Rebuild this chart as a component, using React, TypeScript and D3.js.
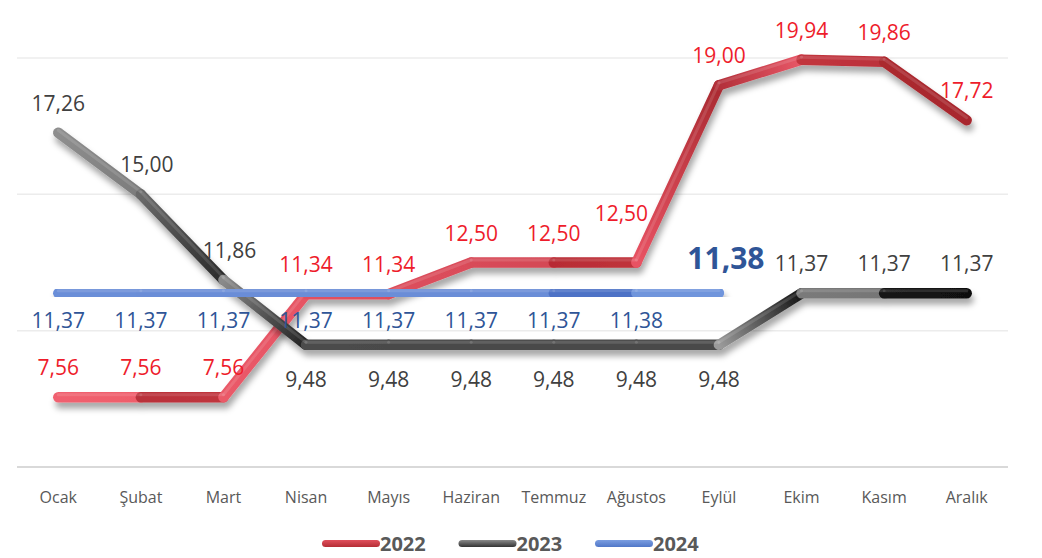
import { scaleBand, scaleLinear } from 'd3'

const months = ['Ocak', 'Şubat', 'Mart', 'Nisan', 'Mayıs', 'Haziran', 'Temmuz', 'Ağustos', 'Eylül', 'Ekim', 'Kasım', 'Aralık']
const values2022 = [7.56, 7.56, 7.56, 11.34, 11.34, 12.5, 12.5, 12.5, 19.0, 19.94, 19.86, 17.72]
const values2023 = [17.26, 15.0, 11.86, 9.48, 9.48, 9.48, 9.48, 9.48, 9.48, 11.37, 11.37, 11.37]
const values2024 = [11.37, 11.37, 11.37, 11.37, 11.37, 11.37, 11.37, 11.38, 11.38]
const yTicks = [5, 10, 15, 20]

// label placement per point: 'a' above, 'b' below
const place2022 = 'aaaaaaaaaaaa'
const place2023 = 'aaabbbbbbaaa'
const place2024 = 'bbbbbbbbA'

// segment colours [start, end]
const seg2022 = [
  ['#f0616f', '#ef5d6b'], ['#b9313a', '#c0353e'], ['#ea5a68', '#e65464'], ['#e05060', '#de4e5e'],
  ['#dc4e5c', '#da4c5a'], ['#d84b59', '#d44856'], ['#b82c35', '#c0323b'], ['#e85363', '#a92a31'],
  ['#b3303a', '#e85868'], ['#c2353e', '#bb313a'], ['#ab292f', '#a8282e']
]
const seg2023 = [
  ['#8e8e8e', '#7c7c7c'], ['#6a6a6a', '#2a2a2a'], ['#8a8a8a', '#222222'], ['#4c4c4c', '#4a4a4a'],
  ['#4a4a4a', '#4a4a4a'], ['#4a4a4a', '#4a4a4a'], ['#4a4a4a', '#4a4a4a'], ['#4a4a4a', '#4a4a4a'],
  ['#9a9a9a', '#151515'], ['#7a7a7a', '#767676'], ['#141414', '#111111']
]
const seg2024 = [
  ['#6b8ed8', '#6b8ed8'], ['#6a8dd7', '#6a8dd7'], ['#6a8dd7', '#6a8dd7'], ['#6a8dd7', '#6a8dd7'],
  ['#6a8dd7', '#6a8dd7'], ['#6a8dd7', '#6a8dd7'], ['#4d72c6', '#4d72c6'], ['#7095dc', '#7095dc']
]

const width = 1042, height = 558
const x = scaleBand().domain(months).range([17, 1008])
const y = scaleLinear().domain([5, 20]).range([467, 58])
const cx = (i: number) => (x(months[i]) as number) + x.bandwidth() / 2
const fmt = (v: number) => v.toFixed(2).replace('.', ',')
const font = '"Open Sans", "Noto Sans", sans-serif'

const series = [
  { name: '2022', values: values2022, segs: seg2022, place: place2022, label: '#ee1c2b', legend: ['#e0505c', '#b52d35'] },
  { name: '2023', values: values2023, segs: seg2023, place: place2023, label: '#404040', legend: ['#8a8a8a', '#333333'] },
  { name: '2024', values: values2024, segs: seg2024, place: place2024, label: '#2f5597', legend: ['#7b9de0', '#5077c8'] }
]

function App() {
  return (
    <svg width={width} height={height} style={{ position: 'absolute', left: 0, top: 0 }} fontFamily={font}>
      <defs>
        <filter id='shadow' x='-20%' y='-50%' width='140%' height='250%'>
          <feDropShadow dx='2' dy='6' stdDeviation='3' floodColor='#000' floodOpacity='0.35' />
        </filter>
        {series.map((s, si) => s.segs.map((c, i) => (
          <linearGradient key={`${si}-${i}`} id={`g${si}-${i}`} gradientUnits='userSpaceOnUse'
            x1={cx(i)} y1={y(s.values[i])} x2={cx(i + 1)} y2={y(s.values[i + 1])}>
            <stop offset='0' stopColor={c[0]} />
            <stop offset='1' stopColor={c[1]} />
          </linearGradient>
        )))}
        {series.map((s, si) => (
          <linearGradient key={`l${si}`} id={`lg${si}`} x1='0' y1='0' x2='0' y2='1'>
            <stop offset='0' stopColor={s.legend[0]} />
            <stop offset='1' stopColor={s.legend[1]} />
          </linearGradient>
        ))}
      </defs>

      {yTicks.map(t => (
        <line key={t} x1={17} x2={1008} y1={y(t)} y2={y(t)}
          stroke={t === 5 ? '#d9d9d9' : '#ececec'} strokeWidth={t === 5 ? 2 : 1.5} />
      ))}

      {months.map((m, i) => (
        <text key={m} x={cx(i)} y={497} textAnchor='middle' dominantBaseline='central'
          fontSize={16} fill='#595959'>{m}</text>
      ))}

      {series.map((s, si) => (
        <g key={s.name} filter='url(#shadow)'>
          {s.segs.map((c, i) => (
            <line key={i} x1={cx(i)} y1={y(s.values[i])} x2={cx(i + 1)} y2={y(s.values[i + 1])}
              stroke={`url(#g${si}-${i})`} strokeWidth={10.5} strokeLinecap='round' />
          ))}
          {s.segs.map((c, i) => (
            <line key={'h' + i} x1={cx(i)} y1={y(s.values[i]) - 2.5} x2={cx(i + 1)} y2={y(s.values[i + 1]) - 2.5}
              stroke='#fff' strokeOpacity={0.12} strokeWidth={3} strokeLinecap='round' />
          ))}
        </g>
      ))}

      {series.map(s => s.values.map((v, i) => {
        const p = s.place[i]
        if (p === 'A') {
          return (
            <text key={s.name + i} x={cx(i) + 7} y={y(v) - 36} textAnchor='middle' dominantBaseline='central'
              fontSize={30} fontWeight='bold' fill={s.label}>{fmt(v)}</text>
          )
        }
        let dx = 0, dy = p === 'a' ? -30 : 27
        if (s.name === '2022' && i === 7) { dx = -15; dy = -50 }
        if (s.name === '2023' && i === 1) dx = 6
        if (s.name === '2023' && i === 2) dx = 6
        if (s.name === '2023' && p === 'b') dy = 34
        return (
          <text key={s.name + i} x={cx(i) + dx} y={y(v) + dy} textAnchor='middle' dominantBaseline='central'
            fontSize={21} fill={s.label}>{fmt(v)}</text>
        )
      }))}

      {series.map((s, si) => {
        const lx = 322 + si * 136.5
        return (
          <g key={'leg' + s.name}>
            <rect x={lx} y={540} width={58} height={7} rx={3.5} fill={`url(#lg${si})`} />
            <text x={lx + 58} y={543} dominantBaseline='central' fontSize={20} fontWeight='bold' fill='#595959'>{s.name}</text>
          </g>
        )
      })}
    </svg>
  )
}

export default App
